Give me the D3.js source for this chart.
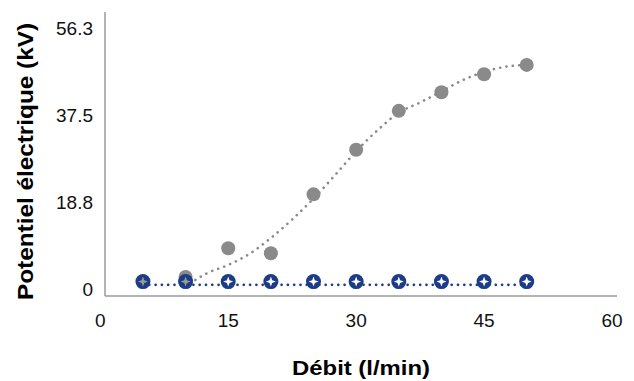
<!DOCTYPE html>
<html><head><meta charset="utf-8">
<script src="https://cdn.jsdelivr.net/npm/d3@7"></script>
<style>body{margin:0;background:#fff}text{font-family:"Liberation Sans",Arial,sans-serif}</style>
</head><body><svg id="c" width="634" height="381"></svg>
<script>
const xTicks = [0, 15, 30, 45, 60];
const yTicks = [0, 18.8, 37.5, 56.3];
const grayX = [10, 15, 20, 25, 30, 35, 40, 45, 50];
const grayY = [2.6, 8.8, 7.7, 20.4, 30.0, 38.4, 42.4, 46.3, 48.3];
const blueX = [5, 10, 15, 20, 25, 30, 35, 40, 45, 50];
const blueY = [1.6, 1.6, 1.6, 1.6, 1.6, 1.6, 1.6, 1.6, 1.6, 1.6];
const trendX = [10.5, 12.5, 15, 17.5, 20, 22.5, 25, 27.5, 30, 32.5, 35, 37.5, 40, 42.5, 45, 47.5, 50];
const trendY = [1.2, 3.4, 5.2, 7.6, 11.0, 15.0, 19.5, 24.5, 29.7, 34.2, 38.0, 40.2, 42.6, 45.0, 46.8, 47.9, 48.3];
const blueTrendX = [5, 50];
const blueTrendY = [0.9, 0.9];

const svg = d3.select("#c");
const x = d3.scaleLinear().domain([0, 60]).range([100.3, 612]);
const y = d3.scaleLinear().domain([-1.5, 59.7]).range([296, 12]);

// axis lines
svg.append("line").attr("x1",105).attr("x2",105).attr("y1",12).attr("y2",296).attr("stroke","#9a9a9a").attr("stroke-width",1.5);
svg.append("line").attr("x1",105).attr("x2",617).attr("y1",296).attr("y2",296).attr("stroke","#9a9a9a").attr("stroke-width",1.5);

// tick labels
svg.selectAll(".xt").data(xTicks).enter().append("text")
  .attr("x", d => x(d)).attr("y", 327).attr("text-anchor","middle")
  .attr("font-size",19).attr("fill","#111").text(d => d);
svg.selectAll(".yt").data(yTicks).enter().append("text")
  .attr("x", 93).attr("y", d => y(d) + 7).attr("text-anchor","end")
  .attr("font-size",19).attr("fill","#111").text(d => d);

// titles
svg.append("text").attr("x",361).attr("y",374.5).attr("text-anchor","middle")
  .attr("font-size",20).attr("font-weight","bold").attr("fill","#000")
  .attr("textLength",138).attr("lengthAdjust","spacingAndGlyphs").text("Débit (l/min)");
svg.append("text").attr("transform","translate(33,161.5) rotate(-90)").attr("text-anchor","middle")
  .attr("font-size",22).attr("font-weight","bold").attr("fill","#000")
  .attr("textLength",277).attr("lengthAdjust","spacingAndGlyphs").text("Potentiel électrique (kV)");

// trend lines
const line = d3.line().x(d => x(d[0])).y(d => y(d[1])).curve(d3.curveMonotoneX);
svg.append("path").datum(trendX.map((v,i)=>[v,trendY[i]])).attr("d",line)
  .attr("fill","none").attr("stroke","#8a8a8a").attr("stroke-width",2.6)
  .attr("stroke-dasharray","0.1 6.3").attr("stroke-linecap","round");

// gray points
svg.selectAll(".g").data(grayX.map((v,i)=>[v,grayY[i]])).enter().append("circle")
  .attr("cx", d => x(d[0])).attr("cy", d => y(d[1])).attr("r",7).attr("fill","#8a8a8a");

svg.append("path").datum(blueTrendX.map((v,i)=>[v,blueTrendY[i]])).attr("d",line)
  .attr("fill","none").attr("stroke","#1d3c86").attr("stroke-width",2.6)
  .attr("stroke-dasharray","0.1 6.2").attr("stroke-linecap","round");

// blue points with star
const star = "M0,-5 L1.3,-1.3 L5,0 L1.3,1.3 L0,5 L-1.3,1.3 L-5,0 L-1.3,-1.3 Z";
const bg = svg.selectAll(".b").data(blueX.map((v,i)=>[v,blueY[i]])).enter().append("g")
  .attr("transform", d => `translate(${x(d[0])},${y(d[1])})`);
bg.append("circle").attr("r",7.5).attr("fill","#1d3c86");
bg.append("path").attr("d",star).attr("fill",(d,i)=> i < 2 ? "#9a9a9a" : "#ffffff");
</script></body></html>
